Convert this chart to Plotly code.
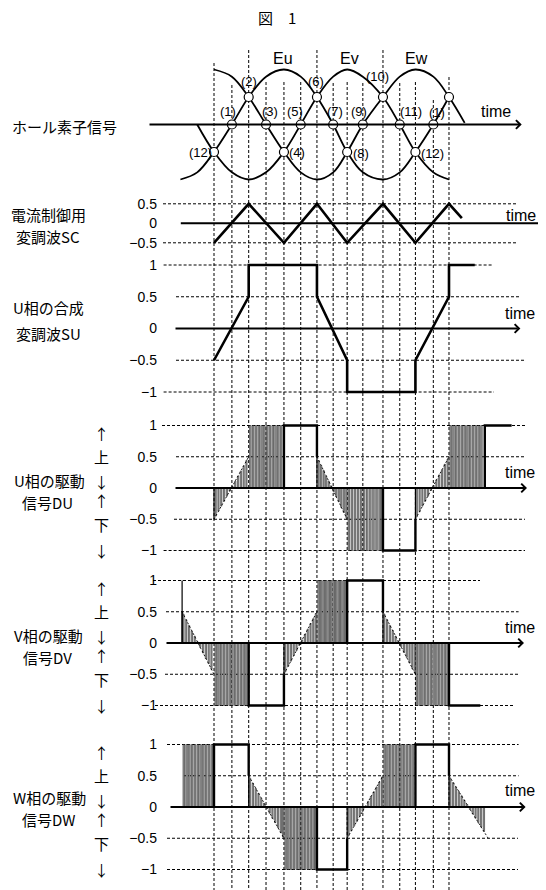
import plotly.graph_objects as go

# ---------------- data ----------------
# electrical angle (deg) of the 15 vertical guide lines = hall-signal intersections
marks = [0, 32, 62, 93, 125, 155, 184, 213, 238, 266, 302, 332, 360, 392, 420]
mark_labels = ["(12)", "(1)", "(2)", "(3)", "(4)", "(5)", "(6)", "(7)", "(8)", "(9)",
               "(10)", "(11)", "(12)", "(1)", ""]
mark_values = [-0.5, 0, 0.5, 0, -0.5, 0, 0.5, 0, -0.5, 0, 0.5, 0, -0.5, 0, 0.5]

# hall element signals
eu_x = [-60, -30, 0, 32, 62, 93, 125, 155, 184, 213, 238, 266, 302, 332, 360, 392, 420]
eu_y = [-1, -0.87, -0.5, 0, 0.5, 0.87, 1, 0.87, 0.5, 0, -0.5, -0.87, -1, -0.87, -0.5, 0, 0.5]
ev_x = [-30, 0, 32, 62, 93, 125, 155, 184, 213, 238, 266, 302, 332, 360, 392, 420]
ev_y = [0, -0.5, -0.87, -1, -0.87, -0.5, 0, 0.5, 0.87, 1, 0.87, 0.5, 0, -0.5, -0.87, -1]
ew_x = [0, 32, 62, 93, 125, 155, 184, 213, 238, 266, 302, 332, 360, 392, 420, 448]
ew_y = [1, 0.87, 0.5, 0, -0.5, -0.87, -1, -0.87, -0.5, 0, 0.5, 0.87, 1, 0.87, 0.5, 0.03]
hall_names = ["Eu", "Ev", "Ew"]
hall_name_x = [124, 243, 362]

# current-control modulation wave SC
sc_x = [0, 62, 125, 184, 238, 302, 360, 420, 443]
sc_y = [-0.5, 0.5, -0.5, 0.5, -0.5, 0.5, -0.5, 0.5, 0.13]

# composite modulation wave SU
su_x = [0, 62, 62, 184, 184, 238, 238, 360, 360, 420, 420, 466]
su_y = [-0.5, 0.5, 1, 1, 0.5, -0.5, -1, -1, -0.5, 0.5, 1, 1]

# ---- drive signal DU ----
du_ramp_x = [3, 8, 13, 18, 23, 28, 33, 38, 43, 48, 53, 58,
             187, 191.5, 196, 200.5, 205, 209.5, 214, 218.5, 223, 227.5, 232, 236.5,
             362.5, 367.5, 372.5, 377.5, 382.5, 387.5, 392.5, 397.5, 402.5, 407.5, 412.5, 417.5]
du_ramp_y = [-0.45, -0.37, -0.29, -0.21, -0.13, -0.05, 0.03, 0.11, 0.19, 0.27, 0.35, 0.44,
             0.44, 0.36, 0.28, 0.19, 0.11, 0.03, -0.06, -0.14, -0.22, -0.31, -0.39, -0.47,
             -0.46, -0.38, -0.29, -0.21, -0.13, -0.04, 0.04, 0.13, 0.21, 0.29, 0.38, 0.46]
du_dense_x = [65, 70, 75, 80, 85, 90, 95, 100, 105, 110, 115, 120,
              241, 246.5, 252, 257.5, 263, 268.5, 274, 279.5, 285, 290.5, 296, 300.5,
              423, 428, 433, 438, 443, 448, 453, 458, 463, 468, 473, 478]
du_dense_y = [1] * 12 + [-1] * 12 + [1] * 12
du_env_start = [0, 184, 360]
du_env_end = [62, 238, 420]
du_env_v0 = [-0.5, 0.5, -0.5]
du_env_v1 = [0.5, -0.5, 0.5]
du_box_start = [125, 302, 484]
du_box_end = [184, 360, 532]
du_box_level = [1, -1, 1]
du_box_closed = [True, True, False]

# ---- drive signal DV ----
dv_ramp_x = [-54.5, -49.5, -44.5, -39.5, -34.5, -29.5, -24.5, -19.5, -14.5, -9.5, -4.5,
             127.5, 132.5, 137.5, 142.5, 147.5, 152.5, 157.5, 162.5, 167.5, 172.5, 177.5, 182,
             304.5, 309.5, 314.5, 319.5, 324.5, 329.5, 334.5, 339.5, 344.5, 349.5, 354.5, 359]
dv_ramp_y = [0.46, 0.37, 0.28, 0.19, 0.11, 0.02, -0.07, -0.16, -0.25, -0.33, -0.42,
             -0.46, -0.37, -0.29, -0.2, -0.12, -0.03, 0.05, 0.14, 0.22, 0.31, 0.39, 0.47,
             0.46, 0.37, 0.28, 0.2, 0.11, 0.03, -0.06, -0.15, -0.23, -0.32, -0.41, -0.48]
dv_dense_x = [3, 8, 13, 18, 23, 28, 33, 38, 43, 48, 53, 58,
              187, 191.5, 196, 200.5, 205, 209.5, 214, 218.5, 223, 227.5, 232, 236.5,
              362.5, 367.5, 372.5, 377.5, 382.5, 387.5, 392.5, 397.5, 402.5, 407.5, 412.5, 417.5]
dv_dense_y = [-1] * 12 + [1] * 12 + [-1] * 12
dv_env_start = [-57, 125, 302]
dv_env_end = [0, 184, 360]
dv_env_v0 = [0.5, -0.5, 0.5]
dv_env_v1 = [-0.5, 0.5, -0.5]
dv_box_start = [62, 238, 420]
dv_box_end = [125, 302, 476]
dv_box_level = [-1, 1, -1]
dv_box_closed = [True, True, False]
dv_spike_x = [-57]
dv_spike_y = [1]

# ---- drive signal DW ----
dw_ramp_x = [64.5, 69.5, 74.5, 79.5, 84.5, 89.5, 94.5, 99.5, 104.5, 109.5, 114.5, 119.5, 123.5,
             240.5, 245.5, 250.5, 255.5, 260.5, 265.5, 270.5, 275.5, 280.5, 285.5, 290.5, 295.5, 300.5,
             422.5, 427.5, 432.5, 437.5, 442.5, 447.5, 452.5, 457.5, 462.5, 467.5, 472.5, 477.5, 482.5]
dw_ramp_y = [0.46, 0.38, 0.3, 0.22, 0.14, 0.06, -0.02, -0.1, -0.18, -0.25, -0.33, -0.41, -0.48,
             -0.46, -0.38, -0.3, -0.23, -0.15, -0.07, 0.01, 0.09, 0.17, 0.24, 0.32, 0.4, 0.48,
             0.46, 0.39, 0.32, 0.25, 0.18, 0.11, 0.04, -0.04, -0.11, -0.18, -0.25, -0.32, -0.39]
dw_dense_x = [-54, -49, -44, -39, -34, -29, -24, -19, -14, -9, -4,
              128, 133, 138, 143, 148, 153, 158, 163, 168, 173, 178, 182,
              305, 310, 315, 320, 325, 330, 335, 340, 345, 350, 355]
dw_dense_y = [1] * 11 + [-1] * 12 + [1] * 11
dw_env_start = [62, 238, 420]
dw_env_end = [125, 302, 490]
dw_env_v0 = [0.5, -0.5, 0.5]
dw_env_v1 = [-0.5, 0.5, -0.5]
dw_box_start = [0, 184, 360]
dw_box_end = [62, 238, 420]
dw_box_level = [1, -1, 1]
dw_box_closed = [True, True, True]

tick_vals = [1, 0.5, 0, -0.5, -1]
tick_text = ["1", "0.5", "0", "\u22120.5", "\u22121"]
sc_tick_vals = [0.5, 0, -0.5]
sc_tick_text = ["0.5", "0", "\u22120.5"]

# ---------------- geometry helpers (window pixel layout) ----------------
WIN_W, WIN_H = 546, 890
OFF = 8                      # page body margin in the browser
FW, FH = WIN_W - OFF, WIN_H - OFF
X0_PX = 214.0
PX_PER_DEG = 0.5595


def th(px):
    return (px - X0_PX) / PX_PER_DEG


def pyp(py):
    return 1 - (py - OFF) / FH


def pxp(px):
    return (px - OFF) / FW


def yrange(p0, unit):
    top = (p0 - OFF) / unit
    return [top - FH / unit, top]


panels = {
    "hall": dict(ax="y", p0=124.5, unit=55),
    "sc": dict(ax="y2", p0=223.3, unit=39),
    "su": dict(ax="y3", p0=328.5, unit=63.5),
    "du": dict(ax="y4", p0=488, unit=62.5),
    "dv": dict(ax="y5", p0=643, unit=62.5),
    "dw": dict(ax="y6", p0=807, unit=62.5),
}

JP = "Noto Sans CJK JP"
LAT = "Liberation Sans"

fig = go.Figure()

# ---- hall panel ----
for xs, ys in [(eu_x, eu_y), (ev_x, ev_y), (ew_x, ew_y)]:
    fig.add_trace(go.Scatter(x=xs, y=ys, mode="lines", line=dict(color="black", width=1.8, shape="spline"),
                             yaxis="y", hoverinfo="skip", showlegend=False))
fig.add_trace(go.Scatter(x=marks, y=mark_values, mode="markers",
                         marker=dict(symbol="circle", size=9, color="white", line=dict(color="black", width=1.2)),
                         yaxis="y", hoverinfo="skip", showlegend=False))

# ---- SC / SU ----
fig.add_trace(go.Scatter(x=sc_x, y=sc_y, mode="lines", line=dict(color="black", width=2.6),
                         yaxis="y2", hoverinfo="skip", showlegend=False))
fig.add_trace(go.Scatter(x=su_x, y=su_y, mode="lines", line=dict(color="black", width=2.6),
                         yaxis="y3", hoverinfo="skip", showlegend=False))

# ---- drive signal panels ----
drive = [
    ("y4", du_ramp_x, du_ramp_y, du_dense_x, du_dense_y, du_env_start, du_env_end, du_env_v0, du_env_v1,
     du_box_start, du_box_end, du_box_level, du_box_closed, [], []),
    ("y5", dv_ramp_x, dv_ramp_y, dv_dense_x, dv_dense_y, dv_env_start, dv_env_end, dv_env_v0, dv_env_v1,
     dv_box_start, dv_box_end, dv_box_level, dv_box_closed, dv_spike_x, dv_spike_y),
    ("y6", dw_ramp_x, dw_ramp_y, dw_dense_x, dw_dense_y, dw_env_start, dw_env_end, dw_env_v0, dw_env_v1,
     dw_box_start, dw_box_end, dw_box_level, dw_box_closed, [], []),
]
for (ax, rx, ry, dx, dy, es, ee, ev0, ev1, bs, be, bl, bc, spx, spy) in drive:
    fig.add_trace(go.Bar(x=dx, y=dy, width=2.8, yaxis=ax,
                         marker=dict(color="#a6a6a6", line=dict(color="black", width=0.5)),
                         hoverinfo="skip", showlegend=False))
    fig.add_trace(go.Bar(x=rx, y=ry, width=2.2, yaxis=ax,
                         marker=dict(color="#b4b4b4", line=dict(color="black", width=0.5)),
                         hoverinfo="skip", showlegend=False))
    # envelope dashed lines
    ex, ey = [], []
    for a, b, v0, v1 in zip(es, ee, ev0, ev1):
        ex += [a, b, None]
        ey += [v0, v1, None]
    fig.add_trace(go.Scatter(x=ex, y=ey, mode="lines", line=dict(color="black", width=0.9, dash="2px,2px"),
                             yaxis=ax, hoverinfo="skip", showlegend=False))
    # thin start edge of each ramp
    sx, sy = [], []
    for a, v0 in zip(es, ev0):
        sx += [a, a, None]
        sy += [0, v0, None]
    for a, v in zip(spx, spy):
        sx += [a, a, None]
        sy += [0, v, None]
    fig.add_trace(go.Scatter(x=sx, y=sy, mode="lines", line=dict(color="black", width=1.2),
                             yaxis=ax, hoverinfo="skip", showlegend=False))
    # solid boxes
    bx, by = [], []
    for a, b, lev, closed in zip(bs, be, bl, bc):
        bx += [a, a, b]
        by += [0, lev, lev]
        if closed:
            bx += [b]
            by += [lev / 2]
        bx += [None]
        by += [None]
    fig.add_trace(go.Scatter(x=bx, y=by, mode="lines", line=dict(color="black", width=2.4),
                             yaxis=ax, hoverinfo="skip", showlegend=False))

# ---------------- shapes: guide lines ----------------
shapes = []
vline_top = [63, 85, 50, 82, 82, 82, 50, 83, 82, 83, 50, 83, 82, 100, 77]
for m, top in zip(marks, vline_top):
    shapes.append(dict(type="line", xref="x", yref="paper", x0=m, x1=m, y0=pyp(top), y1=0,
                       line=dict(color="black", width=1, dash="3px,2px"), layer="below"))

hdash = {
    "sc": [(0.5, 163, 518), (-0.5, 163, 517)],
    "su": [(1, 163.6, 492), (0.5, 176, 520), (-0.5, 176, 525), (-1, 163.6, 494)],
    "du": [(1, 162, 525), (0.5, 176, 525), (-0.5, 174, 525), (-1, 163.6, 525)],
    "dv": [(1, 153, 480), (0.5, 166, 518.6), (-0.5, 165, 518), (-1, 155, 515)],
    "dw": [(1, 167, 518.6), (0.5, 183, 518.6), (-0.5, 167, 518), (-1, 167, 518)],
}
for key, lst in hdash.items():
    for lev, a, b in lst:
        shapes.append(dict(type="line", xref="x", yref=panels[key]["ax"], x0=th(a), x1=th(b), y0=lev, y1=lev,
                           line=dict(color="black", width=1, dash="3px,2px"), layer="below"))

# ---------------- annotations ----------------
ann = []


def text_ann(**kw):
    d = dict(showarrow=False, xanchor="center", yanchor="middle")
    d.update(kw)
    ann.append(d)


# time axes with arrows
axis_ext = {"hall": (148, 521.7), "sc": (179.3, 545.3), "su": (174, 520.4),
            "du": (174, 527), "dv": (165, 524), "dw": (169, 525.6)}
time_pos = {"hall": (496, 12.7), "sc": (521, 8.3), "su": (520, 15),
            "du": (519.5, 16), "dv": (519.5, 15.7), "dw": (519.5, 16.7)}
for key, (a, b) in axis_ext.items():
    ax = panels[key]["ax"]
    ann.append(dict(x=th(b), y=0, xref="x", yref=ax, ax=th(a), ay=0, axref="x", ayref=ax,
                    text="", showarrow=True, arrowhead=4, arrowsize=0.85, arrowwidth=2, arrowcolor="black"))
    tx, up = time_pos[key]
    text_ann(x=pxp(tx), y=0, xref="paper", yref=ax, yshift=up, text="time",
             font=dict(family=LAT, size=16, color="black"))

# intersection labels
lab_off = [(-14, 0), (-4, -13), (0, -16), (4, -13), (13, 0), (-6, -13), (-1, -16), (2, -13),
           (14, 1), (-4, -13), (-5, -21), (11, -13), (17, 1), (4, -12), (0, 0)]
for m, v, t, (dx, dy) in zip(marks, mark_values, mark_labels, lab_off):
    if t:
        text_ann(x=m, y=v, xref="x", yref="y", xshift=dx, yshift=-dy, text=t,
                 font=dict(family=LAT, size=13, color="black"))
for nm, nx in zip(hall_names, hall_name_x):
    text_ann(x=nx, y=1.2, xref="x", yref="y", text=nm, font=dict(family=LAT, size=16, color="black"))

# title
text_ann(x=pxp(277), y=pyp(18), xref="paper", yref="paper", text="図\u30001",
         font=dict(family=JP, size=15, color="black"))

# left labels (text, x px, shift px below axis)
left_labels = {
    "hall": [("ホール素子信号", 64, 2)],
    "sc": [("電流制御用", 48.7, -9), ("変調波SC", 48, 13)],
    "su": [("U相の合成", 48.7, -21), ("変調波SU", 48.7, 5)],
    "du": [("U相の駆動", 49.6, -8), ("信号DU", 47, 14)],
    "dv": [("V相の駆動", 48.7, -8), ("信号DV", 47, 14)],
    "dw": [("W相の駆動", 49.6, -10), ("信号DW", 48, 12)],
}
for key, lst in left_labels.items():
    ax = panels[key]["ax"]
    for t, x, dy in lst:
        text_ann(x=pxp(x), y=0, xref="paper", yref=ax, yshift=-dy, text=t,
                 font=dict(family=JP, size=15, color="black"))

# up / down markers
ud_text = ["↑", "上", "↓", "↑", "下", "↓"]
ud_val = [0.88, 0.5, 0.11, -0.2, -0.58, -1.0]
for key in ["du", "dv", "dw"]:
    ax = panels[key]["ax"]
    for t, v in zip(ud_text, ud_val):
        text_ann(x=pxp(101), y=v, xref="paper", yref=ax, text=t,
                 font=dict(family=JP, size=15, color="black"))

# ---------------- layout ----------------
layout = dict(
    width=FW, height=FH, margin=dict(l=0, r=0, t=0, b=0, pad=0, autoexpand=False),
    paper_bgcolor="white", plot_bgcolor="white", showlegend=False, barmode="overlay",
    xaxis=dict(domain=[0, 1], range=[th(OFF), th(WIN_W)], visible=False, fixedrange=True),
    shapes=shapes, annotations=ann,
)
for key, p in panels.items():
    name = "yaxis" if p["ax"] == "y" else "yaxis" + p["ax"][1:]
    cfg = dict(range=yrange(p["p0"], p["unit"]), showgrid=False, zeroline=False, showline=False,
               fixedrange=True, domain=[0, 1])
    if key == "hall":
        cfg.update(visible=False)
    else:
        tv, tt = (sc_tick_vals, sc_tick_text) if key == "sc" else (tick_vals, tick_text)
        cfg.update(overlaying="y", anchor="free", position=pxp(157), tickvals=tv, ticktext=tt,
                   ticks="", automargin=False, tickfont=dict(family=LAT, size=14, color="black"))
    layout[name] = cfg

fig.update_layout(**layout)
fig.write_html("out.html")
